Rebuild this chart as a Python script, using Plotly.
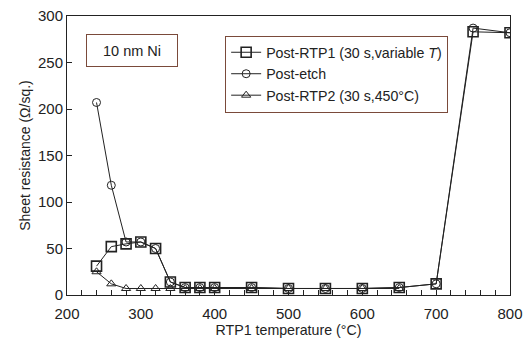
import plotly.graph_objects as go

rtp1_x = [240, 260, 280, 300, 320, 340, 360, 380, 400, 450, 500, 550, 600, 650, 700, 750, 800]
rtp1_y = [31, 52, 55, 57, 50, 14, 8, 8, 8, 8, 7, 7, 7, 8, 12, 283, 282]

etch_x = [240, 260, 280, 300, 320, 340, 360, 380, 400, 450, 500, 550, 600, 650, 700, 750, 800]
etch_y = [207, 118, 57, 57, 50, 14, 8, 8, 8, 8, 7, 7, 7, 8, 12, 287, 282]

rtp2_x = [240, 260, 280, 300, 320, 340, 360, 380, 400, 450, 500, 550, 600, 650]
rtp2_y = [25, 12, 7, 7, 7, 7, 7, 7, 7, 7, 7, 7, 7, 7]

FONT = "Liberation Sans, Arial, sans-serif"
INK = "#222222"
BOX = "#7a4a3a"

fig = go.Figure()
fig.add_trace(go.Scatter(x=rtp1_x, y=rtp1_y, mode="lines+markers",
                         name="Post-RTP1 (30 s,variable <i>T</i>)",
                         line=dict(color=INK, width=1),
                         marker=dict(symbol="square-open", size=10, color=INK, line=dict(width=1.6, color=INK))))
fig.add_trace(go.Scatter(x=etch_x, y=etch_y, mode="lines+markers",
                         name="Post-etch",
                         line=dict(color=INK, width=1),
                         marker=dict(symbol="circle-open", size=8, color=INK, line=dict(width=1, color=INK))))
fig.add_trace(go.Scatter(x=rtp2_x, y=rtp2_y, mode="lines+markers",
                         name="Post-RTP2 (30 s,450°C)",
                         line=dict(color=INK, width=1),
                         marker=dict(symbol="triangle-up-open", size=8, color=INK, line=dict(width=1, color=INK))))

fig.add_annotation(x=0.147, y=0.878, xref="paper", yref="paper", text="10 nm Ni",
                   showarrow=False, font=dict(family=FONT, size=14.5, color=INK),
                   bordercolor=BOX, borderwidth=1, width=88, height=29,
                   bgcolor="white", xanchor="center", yanchor="middle")

fig.update_layout(
    width=523, height=344,
    margin=dict(l=67, r=13, t=16, b=49),
    paper_bgcolor="white", plot_bgcolor="white",
    font=dict(family=FONT, size=15, color=INK),
    showlegend=True,
    legend=dict(x=0.357, y=0.93, xanchor="left", yanchor="top",
                bgcolor="white", bordercolor=BOX, borderwidth=1,
                font=dict(family=FONT, size=14.2, color=INK),
                itemwidth=30, tracegroupgap=0),
    xaxis=dict(range=[200, 800], tickvals=[200, 300, 400, 500, 600, 700, 800],
               ticks="inside", ticklen=5, tickcolor=INK, ticklabelstandoff=5,
               tickfont=dict(size=15), automargin=False,
               minor=dict(dtick=20, ticks="inside", ticklen=5, tickcolor=INK),
               showline=True, linecolor=INK, linewidth=1, mirror=True,
               showgrid=False, zeroline=False,
               title=dict(text="RTP1 temperature (°C)", font=dict(size=14.2), standoff=4)),
    yaxis=dict(range=[0, 300], tickvals=[0, 50, 100, 150, 200, 250, 300],
               ticks="inside", ticklen=5, tickcolor=INK,
               tickfont=dict(size=15), automargin=False,
               showline=True, linecolor=INK, linewidth=1, mirror=True,
               showgrid=False, zeroline=False,
               title=dict(text="Sheet resistance (Ω/sq.)", font=dict(size=14), standoff=4)),
)

fig.write_html("out.html")
